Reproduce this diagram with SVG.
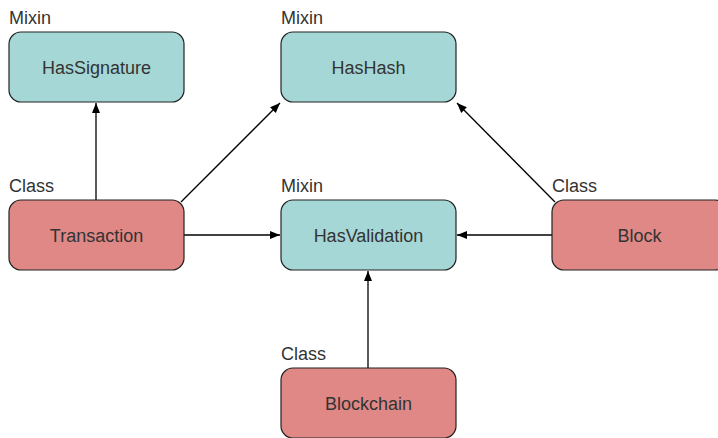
<svg xmlns="http://www.w3.org/2000/svg" width="718" height="438" viewBox="0 0 718 438">
<defs>
<marker id="arr" viewBox="0 0 10 10" refX="10" refY="5" markerWidth="10" markerHeight="10" markerUnits="userSpaceOnUse" orient="auto">
<path d="M0,1 L10,5 L0,9 Z" fill="#000"/>
</marker>
<style>
.mixin{fill:#a5d7d6;stroke:#222;stroke-width:1.2}
.cls{fill:#df8886;stroke:#222;stroke-width:1.2}
.name{font-family:"Liberation Sans",Arial,sans-serif;font-size:18px;fill:#333;text-anchor:middle}
.tag{font-family:"Liberation Sans",Arial,sans-serif;font-size:18px;fill:#333}
.edge{stroke:#000;stroke-width:1.3;fill:none;marker-end:url(#arr)}
</style>
</defs>
<rect width="718" height="438" fill="#fff"/>
<g id="connectors">
<line class="edge" x1="96" y1="200" x2="96" y2="103"/>
<line class="edge" x1="181" y1="202" x2="280" y2="103"/>
<line class="edge" x1="184" y1="235" x2="280" y2="235"/>
<line class="edge" x1="555" y1="202" x2="457" y2="103"/>
<line class="edge" x1="552" y1="235" x2="457" y2="235"/>
<line class="edge" x1="368" y1="368" x2="368" y2="271"/>
</g>
<g id="HasSignature">
<text class="tag" x="9" y="24">Mixin</text>
<rect class="mixin" x="9" y="32" width="175" height="70" rx="12"/>
<text class="name" x="96.5" y="73.5">HasSignature</text>
</g>
<g id="HasHash">
<text class="tag" x="281" y="24">Mixin</text>
<rect class="mixin" x="281" y="32" width="175" height="70" rx="12"/>
<text class="name" x="368.5" y="73.5">HasHash</text>
</g>
<g id="Transaction">
<text class="tag" x="9" y="192">Class</text>
<rect class="cls" x="9" y="200" width="175" height="70" rx="12"/>
<text class="name" x="96.5" y="241.5">Transaction</text>
</g>
<g id="HasValidation">
<text class="tag" x="281" y="192">Mixin</text>
<rect class="mixin" x="281" y="200" width="175" height="70" rx="12"/>
<text class="name" x="368.5" y="241.5">HasValidation</text>
</g>
<g id="Block">
<text class="tag" x="552" y="192">Class</text>
<rect class="cls" x="552" y="200" width="175" height="70" rx="12"/>
<text class="name" x="639.5" y="241.5">Block</text>
</g>
<g id="Blockchain">
<text class="tag" x="281" y="360">Class</text>
<rect class="cls" x="281" y="368" width="175" height="70" rx="12"/>
<text class="name" x="368.5" y="409.5">Blockchain</text>
</g>
</svg>
